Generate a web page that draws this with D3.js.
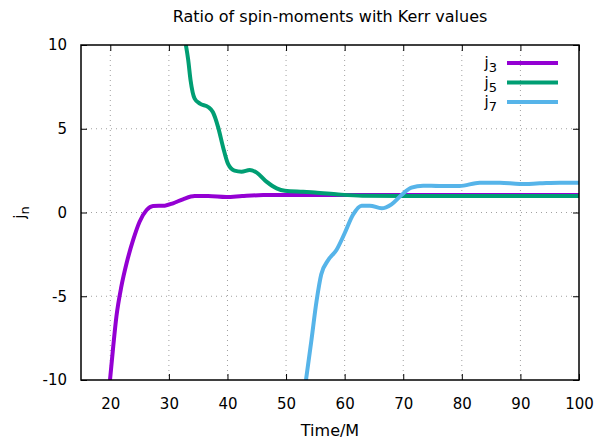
<!DOCTYPE html>
<html>
<head>
<meta charset="utf-8">
<script src="https://cdn.jsdelivr.net/npm/d3@7"></script>
<style>
  body { margin: 0; background: #fff; }
  svg { font-family: "DejaVu Sans", sans-serif; }
</style>
</head>
<body>
<div class="chart"></div>
<script>
// values
const j3Time = [19.95, 20.5, 21.05, 21.9, 22.8, 23.9, 25.0, 26.2, 27.3, 29.3, 30.7, 32.4, 34.4, 36.7, 39.8, 42.5, 46.1, 50, 60, 70, 80, 90, 100];
const j3Vals = [-10, -8.0, -6.2, -4.4, -3.0, -1.64, -0.55, 0.15, 0.39, 0.41, 0.55, 0.79, 0.98, 0.98, 0.92, 0.98, 1.04, 1.05, 1.05, 1.05, 1.05, 1.05, 1.05];

const j5Time = [32.9, 33.3, 33.7, 34.4, 35.3, 36.7, 37.5, 38.4, 39.25, 40.1, 41.2, 42.4, 43.8, 45, 46.65, 48.4, 49.8, 52.9, 54.9, 58.9, 63, 70, 80, 90, 100];
const j5Vals = [10, 9.1, 7.9, 6.8, 6.5, 6.3, 6.0, 5.1, 3.9, 2.9, 2.5, 2.44, 2.54, 2.38, 1.84, 1.44, 1.3, 1.24, 1.2, 1.08, 1.0, 0.98, 0.98, 0.98, 0.98];

const j7Time = [53.4, 54.3, 55.2, 56.0, 57.2, 58.6, 60.0, 61.4, 62.9, 64.3, 66.3, 68.0, 69.7, 71.4, 73.4, 76.2, 79.6, 83.05, 86.5, 89.9, 93.3, 96.7, 100];
const j7Vals = [-10, -7.7, -5.3, -3.7, -2.84, -2.24, -1.24, -0.15, 0.41, 0.41, 0.25, 0.49, 1.04, 1.48, 1.6, 1.58, 1.58, 1.78, 1.78, 1.7, 1.74, 1.78, 1.78];

const seriesNames = ["3", "5", "7"];
const seriesColors = ["#9400d3", "#009e73", "#56b4e9"];
const xTicks = [20, 30, 40, 50, 60, 70, 80, 90, 100];
const yTicks = [-10, -5, 0, 5, 10];

const series = [
  j3Time.map((t, i) => ({ t: t, v: j3Vals[i] })),
  j5Time.map((t, i) => ({ t: t, v: j5Vals[i] })),
  j7Time.map((t, i) => ({ t: t, v: j7Vals[i] }))
];

let margin = { top: 45, right: 29, bottom: 62, left: 81 };
let width = 608 - margin.left - margin.right;
let height = 442 - margin.top - margin.bottom;

let root = d3
  .select(".chart")
  .append("svg")
  .attr("width", 608)
  .attr("height", 442);

let svg = root
  .append("g")
  .attr("transform", `translate(${margin.left}, ${margin.top})`);

const xScale = d3.scaleLinear().domain([15, 100]).range([0, width]);
const yScale = d3.scaleLinear().domain([-10, 10]).range([height, 0]);

// grid
svg
  .selectAll(".vgrid")
  .data(xTicks.filter(d => d < 100))
  .enter()
  .append("line")
  .attr("x1", d => xScale(d))
  .attr("x2", d => xScale(d))
  .attr("y1", 0)
  .attr("y2", height)
  .style("stroke", "#a0a0a0")
  .style("stroke-width", 1)
  .style("stroke-dasharray", "1,4");

svg
  .selectAll(".hgrid")
  .data(yTicks.filter(d => d > -10 && d < 10))
  .enter()
  .append("line")
  .attr("x1", 0)
  .attr("x2", width)
  .attr("y1", d => yScale(d))
  .attr("y2", d => yScale(d))
  .style("stroke", "#a0a0a0")
  .style("stroke-width", 1)
  .style("stroke-dasharray", "1,4");

// axes, ticks inward and mirrored
const tickStyle = g => {
  g.select(".domain").remove();
  g.selectAll("line").style("stroke", "#000");
  g.selectAll("text")
    .style("font-family", "DejaVu Sans, sans-serif")
    .style("font-size", "15px")
    .style("fill", "#000");
};

svg
  .append("g")
  .attr("transform", `translate(0, ${height})`)
  .call(d3.axisBottom(xScale).tickValues(xTicks).tickSize(-6).tickPadding(18).tickFormat(d => String(d)))
  .call(tickStyle);

svg
  .append("g")
  .call(d3.axisTop(xScale).tickValues(xTicks).tickSize(-6).tickFormat(""))
  .call(tickStyle);

svg
  .append("g")
  .call(d3.axisLeft(yScale).tickValues(yTicks).tickSize(-6).tickPadding(14).tickFormat(d => String(d)))
  .call(tickStyle);

svg
  .append("g")
  .attr("transform", `translate(${width}, 0)`)
  .call(d3.axisRight(yScale).tickValues(yTicks).tickSize(-6).tickFormat(""))
  .call(tickStyle);

// clip
svg
  .append("clipPath")
  .attr("id", "clip")
  .append("rect")
  .attr("width", width)
  .attr("height", height);

const line = d3
  .line()
  .x(d => xScale(d.t))
  .y(d => yScale(d.v))
  .curve(d3.curveMonotoneX);

svg
  .selectAll(".series")
  .data(series)
  .enter()
  .append("path")
  .attr("clip-path", "url(#clip)")
  .attr("d", d => line(d))
  .style("fill", "none")
  .style("stroke", (d, i) => seriesColors[i])
  .style("stroke-width", 4)
  .style("stroke-linejoin", "round");

// border
svg
  .append("rect")
  .attr("width", width)
  .attr("height", height)
  .style("fill", "none")
  .style("stroke", "#000")
  .style("stroke-width", 1.5);

// legend
const legend = svg
  .selectAll(".legend")
  .data(seriesNames)
  .enter()
  .append("g")
  .attr("transform", (d, i) => `translate(0, ${18 + i * 19.5})`);

legend
  .append("line")
  .attr("x1", 426)
  .attr("x2", 477)
  .style("stroke", (d, i) => seriesColors[i])
  .style("stroke-width", 4);

const legendText = legend
  .append("text")
  .attr("x", 416)
  .attr("y", 5)
  .attr("text-anchor", "end")
  .style("font-size", "15px");
legendText.append("tspan").text("j");
legendText
  .append("tspan")
  .attr("dy", 4)
  .style("font-size", "13px")
  .text(d => d);

// title and axis labels
root
  .append("text")
  .attr("x", 330)
  .attr("y", 22)
  .attr("text-anchor", "middle")
  .style("font-size", "16px")
  .text("Ratio of spin-moments with Kerr values");

root
  .append("text")
  .attr("x", margin.left + width / 2)
  .attr("y", 436)
  .attr("text-anchor", "middle")
  .style("font-size", "16px")
  .text("Time/M");

const yLab = root
  .append("text")
  .attr("transform", `translate(25, ${margin.top + height / 2}) rotate(-90)`)
  .attr("text-anchor", "middle")
  .style("font-size", "15px");
yLab.append("tspan").text("j");
yLab.append("tspan").attr("dy", 4).style("font-size", "13px").text("n");
</script>
</body>
</html>
